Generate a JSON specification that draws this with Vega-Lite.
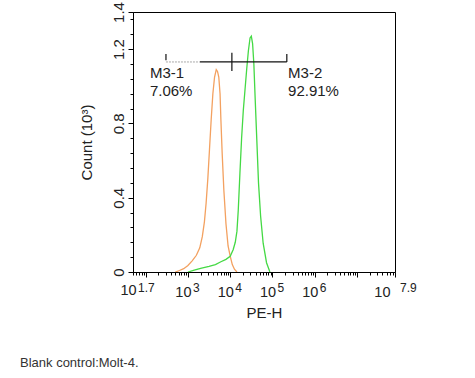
{
  "$schema": "https://vega.github.io/schema/vega-lite/v6.json",
  "width": 262,
  "height": 260,
  "autosize": "none",
  "padding": {"left": 133, "top": 12, "right": 80, "bottom": 106},
  "background": "white",
  "config": {
    "font": "Liberation Sans",
    "view": {"stroke": "#000", "strokeWidth": 1}
  },
  "title": {
    "text": "Blank control:Molt-4.",
    "orient": "bottom",
    "anchor": "start",
    "frame": "group",
    "dx": -113,
    "offset": 36,
    "fontSize": 13,
    "fontWeight": "normal",
    "color": "#333"
  },
  "resolve": {"axis": {"x": "independent", "y": "independent"}},
  "datasets": {
    "curves": [
      {"series": "blank", "lx": 2.7, "v": 0},
      {"series": "blank", "lx": 2.8, "v": 0.008},
      {"series": "blank", "lx": 2.9, "v": 0.018},
      {"series": "blank", "lx": 3.0, "v": 0.035},
      {"series": "blank", "lx": 3.1, "v": 0.06},
      {"series": "blank", "lx": 3.2, "v": 0.09},
      {"series": "blank", "lx": 3.28, "v": 0.13},
      {"series": "blank", "lx": 3.34, "v": 0.19},
      {"series": "blank", "lx": 3.39, "v": 0.27},
      {"series": "blank", "lx": 3.43, "v": 0.37},
      {"series": "blank", "lx": 3.47, "v": 0.5},
      {"series": "blank", "lx": 3.51, "v": 0.66},
      {"series": "blank", "lx": 3.55, "v": 0.82},
      {"series": "blank", "lx": 3.59, "v": 0.96},
      {"series": "blank", "lx": 3.63, "v": 1.05},
      {"series": "blank", "lx": 3.67, "v": 1.09},
      {"series": "blank", "lx": 3.7, "v": 1.08},
      {"series": "blank", "lx": 3.73, "v": 1.05},
      {"series": "blank", "lx": 3.76, "v": 0.96},
      {"series": "blank", "lx": 3.78, "v": 0.82},
      {"series": "blank", "lx": 3.81, "v": 0.64},
      {"series": "blank", "lx": 3.85, "v": 0.44},
      {"series": "blank", "lx": 3.9, "v": 0.26},
      {"series": "blank", "lx": 3.95, "v": 0.14},
      {"series": "blank", "lx": 4.0, "v": 0.085},
      {"series": "blank", "lx": 4.05, "v": 0.04},
      {"series": "blank", "lx": 4.1, "v": 0.015},
      {"series": "blank", "lx": 4.16, "v": 0},
      {"series": "sample", "lx": 3.0, "v": 0},
      {"series": "sample", "lx": 3.15, "v": 0.01},
      {"series": "sample", "lx": 3.3, "v": 0.02},
      {"series": "sample", "lx": 3.5, "v": 0.03},
      {"series": "sample", "lx": 3.65, "v": 0.04},
      {"series": "sample", "lx": 3.78, "v": 0.055},
      {"series": "sample", "lx": 3.9, "v": 0.068},
      {"series": "sample", "lx": 4.0, "v": 0.085},
      {"series": "sample", "lx": 4.07, "v": 0.12},
      {"series": "sample", "lx": 4.12, "v": 0.16},
      {"series": "sample", "lx": 4.16, "v": 0.22},
      {"series": "sample", "lx": 4.19, "v": 0.33},
      {"series": "sample", "lx": 4.23, "v": 0.53},
      {"series": "sample", "lx": 4.27, "v": 0.72},
      {"series": "sample", "lx": 4.31, "v": 0.87},
      {"series": "sample", "lx": 4.35, "v": 0.98},
      {"series": "sample", "lx": 4.39, "v": 1.09},
      {"series": "sample", "lx": 4.43, "v": 1.19},
      {"series": "sample", "lx": 4.47, "v": 1.26},
      {"series": "sample", "lx": 4.5, "v": 1.27},
      {"series": "sample", "lx": 4.53, "v": 1.23},
      {"series": "sample", "lx": 4.56, "v": 1.12},
      {"series": "sample", "lx": 4.59, "v": 0.94},
      {"series": "sample", "lx": 4.63, "v": 0.71},
      {"series": "sample", "lx": 4.67, "v": 0.48},
      {"series": "sample", "lx": 4.72, "v": 0.3},
      {"series": "sample", "lx": 4.78, "v": 0.155},
      {"series": "sample", "lx": 4.86, "v": 0.05},
      {"series": "sample", "lx": 4.94, "v": 0}
    ],
    "exps": [
      {"lx": 1.7, "e": "1.7"},
      {"lx": 3, "e": "3"},
      {"lx": 4, "e": "4"},
      {"lx": 5, "e": "5"},
      {"lx": 6, "e": "6"},
      {"lx": 7.9, "e": "7.9"}
    ],
    "segs": [
      {"part": "faint", "x1": 2.48, "x2": 3.285, "y1": 1.131, "y2": 1.131},
      {"part": "gate", "x1": 3.285, "x2": 5.34, "y1": 1.131, "y2": 1.131},
      {"part": "gate", "x1": 2.48, "x2": 2.48, "y1": 1.14, "y2": 1.174},
      {"part": "gate", "x1": 4.04, "x2": 4.04, "y1": 1.082, "y2": 1.18},
      {"part": "gate", "x1": 5.34, "x2": 5.34, "y1": 1.131, "y2": 1.174}
    ],
    "notes": [
      {"lx": 2.1, "v": 1.045, "t": "M3-1"},
      {"lx": 2.1, "v": 0.948, "t": "7.06%"},
      {"lx": 5.37, "v": 1.045, "t": "M3-2"},
      {"lx": 5.37, "v": 0.948, "t": "92.91%"}
    ]
  },
  "layer": [
    {
      "data": {"name": "curves"},
      "mark": {"type": "line", "strokeWidth": 1.3, "clip": true, "interpolate": "linear"},
      "encoding": {
        "x": {
          "field": "lx",
          "type": "quantitative",
          "scale": {"domain": [1.7, 7.9], "nice": false, "zero": false},
          "axis": {
            "values": [1.7, 1.778, 1.845, 1.903, 1.954, 2, 2.301, 2.477, 2.602, 2.699, 2.778, 2.845, 2.903, 2.954, 3, 3.301, 3.477, 3.602, 3.699, 3.778, 3.845, 3.903, 3.954, 4, 4.301, 4.477, 4.602, 4.699, 4.778, 4.845, 4.903, 4.954, 5, 5.301, 5.477, 5.602, 5.699, 5.778, 5.845, 5.903, 5.954, 6, 6.301, 6.477, 6.602, 6.699, 6.778, 6.845, 6.903, 6.954, 7, 7.301, 7.477, 7.602, 7.699, 7.778, 7.845, 7.9],
            "labelExpr": "indexof([1.7, 3, 4, 5, 6, 7.9], datum.value) >= 0 ? '10' : ''",
            "labelOverlap": false,
            "labelFlush": false,
            "labelBound": false,
            "labelFontSize": 14.5,
            "labelColor": "#222",
            "labelOffset": -5,
            "labelPadding": 8,
            "labelAlign": {"condition": {"test": "datum.value > 7.85", "value": "right"}, "value": "center"},
            "tickSize": {"condition": {"test": "datum.value % 1 === 0 || datum.value > 7.85", "value": 5}, "value": 3},
            "tickColor": "#000",
            "domainColor": "#000",
            "grid": false,
            "title": "PE-H",
            "titleFontSize": 15,
            "titleFontWeight": "normal",
            "titleColor": "#222",
            "titlePadding": 7
          }
        },
        "y": {
          "field": "v",
          "type": "quantitative",
          "scale": {"domain": [0, 1.4], "nice": false},
          "axis": {
            "values": [0, 0.08, 0.16, 0.24, 0.32, 0.4, 0.48, 0.56, 0.64, 0.72, 0.8, 0.88, 0.96, 1.04, 1.12, 1.2, 1.28, 1.36, 1.4],
            "format": ".1~f",
            "labelExpr": "indexof([0, 0.4, 0.8, 1.2, 1.4], datum.value) >= 0 ? datum.label : ''",
            "labelOverlap": false,
            "labelFlush": false,
            "labelBound": false,
            "labelAngle": 270,
            "labelAlign": "center",
            "labelBaseline": "bottom",
            "labelFontSize": 15,
            "labelColor": "#222",
            "labelPadding": 2,
            "tickSize": {"condition": {"test": "indexof([0, 0.4, 0.8, 1.2, 1.4], datum.value) >= 0", "value": 5}, "value": 3},
            "tickColor": "#000",
            "domainColor": "#000",
            "grid": false,
            "title": "Count (10³)",
            "titleFontSize": 15,
            "titleFontWeight": "normal",
            "titleColor": "#222",
            "titlePadding": 17
          }
        },
        "color": {
          "field": "series",
          "type": "nominal",
          "scale": {"domain": ["blank", "sample"], "range": ["#f3a160", "#44d944"]},
          "legend": null
        },
        "detail": {"field": "series"}
      }
    },
    {
      "data": {"name": "exps"},
      "mark": {"type": "text", "align": "left", "baseline": "alphabetic", "dx": 5, "dy": 20, "fontSize": 12, "color": "#222", "clip": false},
      "encoding": {
        "x": {"field": "lx", "type": "quantitative", "axis": null},
        "y": {"datum": 0, "axis": null},
        "text": {"field": "e"}
      }
    },
    {
      "data": {"name": "segs"},
      "transform": [{"filter": "datum.part === 'faint'"}],
      "mark": {"type": "rule", "color": "#aaa", "strokeWidth": 1, "strokeDash": [2, 1]},
      "encoding": {
        "x": {"field": "x1", "type": "quantitative", "axis": null},
        "x2": {"field": "x2"},
        "y": {"field": "y1", "type": "quantitative", "axis": null},
        "y2": {"field": "y2"}
      }
    },
    {
      "data": {"name": "segs"},
      "transform": [{"filter": "datum.part === 'gate'"}],
      "mark": {"type": "rule", "color": "#111", "strokeWidth": 1.2},
      "encoding": {
        "x": {"field": "x1", "type": "quantitative", "axis": null},
        "x2": {"field": "x2"},
        "y": {"field": "y1", "type": "quantitative", "axis": null},
        "y2": {"field": "y2"}
      }
    },
    {
      "data": {"name": "notes"},
      "mark": {"type": "text", "align": "left", "baseline": "alphabetic", "fontSize": 15, "color": "#222"},
      "encoding": {
        "x": {"field": "lx", "type": "quantitative", "axis": null},
        "y": {"field": "v", "type": "quantitative", "axis": null},
        "text": {"field": "t"}
      }
    }
  ]
}
